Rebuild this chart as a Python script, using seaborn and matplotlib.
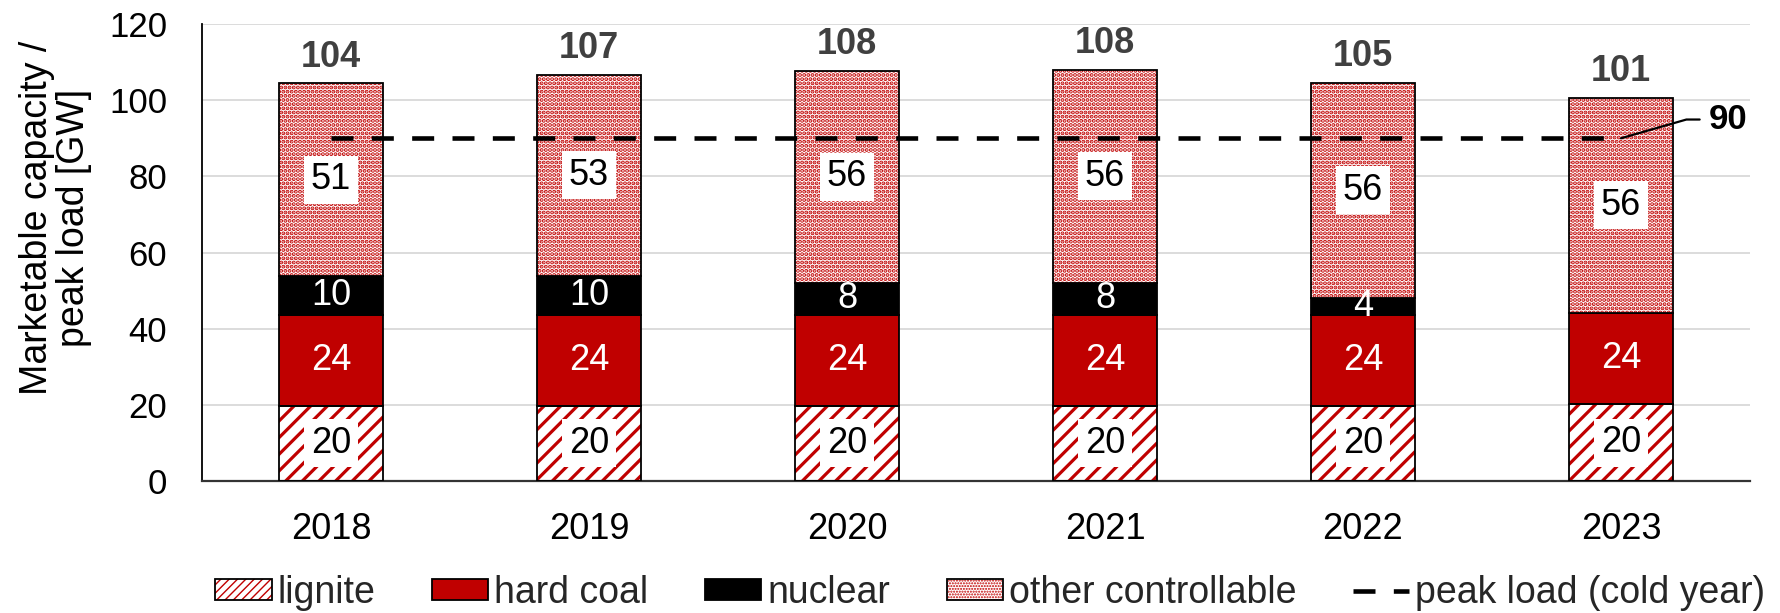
import matplotlib
matplotlib.use("Agg")
import matplotlib.pyplot as plt
from matplotlib.patches import Patch
from matplotlib.lines import Line2D
import seaborn as sns
import numpy as np
import pandas as pd

# ---------------- data ----------------
years = ["2018", "2019", "2020", "2021", "2022", "2023"]
lignite = [19.8, 19.8, 19.8, 19.8, 19.8, 20.2]
hard_coal = [23.9, 23.9, 23.9, 23.9, 23.9, 24.0]
nuclear = [10.1, 10.2, 8.4, 8.4, 4.4, 0.0]
other = [50.6, 52.8, 55.6, 55.8, 56.45, 56.4]
peak_load = [90, 90, 90, 90, 90, 90]
series_names = ["lignite", "hard coal", "nuclear", "other controllable"]
peak_name = "peak load (cold year)"
y_label = "Marketable capacity /\npeak load [GW]"
y_ticks = [0, 20, 40, 60, 80, 100, 120]

RED = "#C00000"
TOTAL_COL = "#404040"

sns.set_theme(style="white")
plt.rcParams["font.family"] = ["Liberation Sans", "DejaVu Sans"]

fig = plt.figure(figsize=(17.81, 6.13), dpi=100)
ax = fig.add_axes([0.1134, 0.2153, 0.8692, 0.7455])

df = pd.DataFrame({"year": years, "lignite": lignite, "hard coal": hard_coal,
                   "nuclear": nuclear, "other controllable": other})
layers = [lignite, hard_coal, nuclear, other]
cum = np.cumsum(layers, axis=0)
bottoms = [np.zeros(len(years)), cum[0], cum[1], cum[2]]
totals = cum[3]

styles = [
    dict(face="white", hatchcol=RED, hatch="//", hlw=2.3),
    dict(face=RED, hatchcol=None, hatch=None, hlw=None),
    dict(face="black", hatchcol=None, hatch=None, hlw=None),
    dict(face="white", hatchcol=RED, hatch="....", hlw=2.0),
]

BAR_W = 0.40
for i, (name, vals) in enumerate(zip(series_names, layers)):
    st = styles[i]
    n0 = len(ax.patches)
    if st["hatch"]:
        with plt.rc_context({"hatch.linewidth": st["hlw"], "hatch.color": st["hatchcol"]}):
            sns.barplot(data=df, x="year", y=name, bottom=bottoms[i], width=BAR_W,
                        color=st["face"], saturation=1, errorbar=None, ax=ax, zorder=2)
            for p in ax.patches[n0:]:
                p.set_facecolor("white")
                p.set_edgecolor(st["hatchcol"])
                p.set_linewidth(0)
                p.set_hatch(st["hatch"])
                if hasattr(p, "set_hatch_linewidth"):
                    p.set_hatch_linewidth(st["hlw"])
        n1 = len(ax.patches)
        sns.barplot(data=df, x="year", y=name, bottom=bottoms[i], width=BAR_W,
                    color="black", fill=False, errorbar=None, ax=ax, zorder=3)
        for p in ax.patches[n1:]:
            p.set_edgecolor("black")
            p.set_facecolor("none")
            p.set_linewidth(1.3)
    else:
        sns.barplot(data=df, x="year", y=name, bottom=bottoms[i], width=BAR_W,
                    color=st["face"], saturation=1, errorbar=None, ax=ax, zorder=2)
        for p in ax.patches[n0:]:
            p.set_facecolor(st["face"])
            p.set_edgecolor("black")
            p.set_linewidth(1.3)

# segment labels
for i, vals in enumerate(layers):
    for j, v in enumerate(vals):
        if v <= 0:
            continue
        yc = bottoms[i][j] + v / 2
        if i in (0, 3):
            ax.text(j, yc, f"{v:.0f}", ha="center", va="center", fontsize=26,
                    color="black", zorder=5,
                    bbox=dict(boxstyle="square,pad=0.18", fc="white", ec="none"))
        else:
            ax.text(j, yc, f"{v:.0f}", ha="center", va="center", fontsize=26,
                    color="white", zorder=5)

# totals
for j, t in enumerate(totals):
    ax.annotate(f"{t:.0f}", xy=(j, t), xytext=(0, 12), textcoords="offset points",
                ha="center", va="baseline", fontsize=26, fontweight="bold",
                color=TOTAL_COL, zorder=5)

# peak load line
xpos = np.arange(len(years))
sns.lineplot(x=xpos, y=peak_load, ax=ax, color="black", linewidth=3.3,
             linestyle=(0, (4.8, 4.0)), zorder=4, legend=False)
ax.annotate(f"{peak_load[-1]:.0f}", xy=(xpos[-1], peak_load[-1]), xytext=(63, 13.5),
            textcoords="offset points", ha="left", va="center", fontsize=25,
            fontweight="bold", color="black", zorder=6,
            arrowprops=dict(arrowstyle="-", color="black", lw=1.6, shrinkA=4, shrinkB=0,
                            relpos=(0, 0.5),
                            connectionstyle="angle,angleA=0,angleB=16,rad=0"))

# axes styling
ax.set_xlim(-0.5, len(years) - 0.5)
ax.set_ylim(0, 120)
ax.set_yticks(y_ticks)
ax.yaxis.grid(True, color="#d9d9d9", linewidth=1.3)
ax.xaxis.grid(False)
ax.set_axisbelow(True)
for s in ["top", "right"]:
    ax.spines[s].set_visible(False)
ax.spines["left"].set_color("black")
ax.spines["left"].set_linewidth(1.3)
ax.spines["bottom"].set_color("#333333")
ax.spines["bottom"].set_linewidth(1.6)
ax.tick_params(axis="y", length=0, pad=25, labelsize=25, labelcolor="black")
ax.tick_params(axis="x", length=0, pad=22, labelsize=26, labelcolor="black")
ax.set_xlabel("")
ax.set_ylabel(y_label, fontsize=27, color="black", linespacing=1.05)
ax.yaxis.set_label_coords(-0.071, 0.575)

# legend
h_lig = (Patch(facecolor="white", edgecolor=RED, hatch="////", linewidth=0),
         Patch(facecolor="none", edgecolor="black", linewidth=1.3))
h_hc = Patch(facecolor=RED, edgecolor="black", linewidth=1.3)
h_nuc = Patch(facecolor="black", edgecolor="black", linewidth=1.3)
h_oth = (Patch(facecolor="white", edgecolor=RED, hatch="......", linewidth=0),
         Patch(facecolor="none", edgecolor="black", linewidth=1.3))
h_peak = Line2D([], [], color="black", linewidth=3.3, linestyle=(0, (4.8, 4.0)))
fig.legend([h_lig, h_hc, h_nuc, h_oth, h_peak], series_names + [peak_name],
           loc="center", bbox_to_anchor=(0.556, 0.033), ncol=5, frameon=False,
           fontsize=27, handlelength=1.5, handleheight=0.5, handletextpad=0.15,
           columnspacing=1.52, borderpad=0)

fig.savefig("out.png", dpi=100)
